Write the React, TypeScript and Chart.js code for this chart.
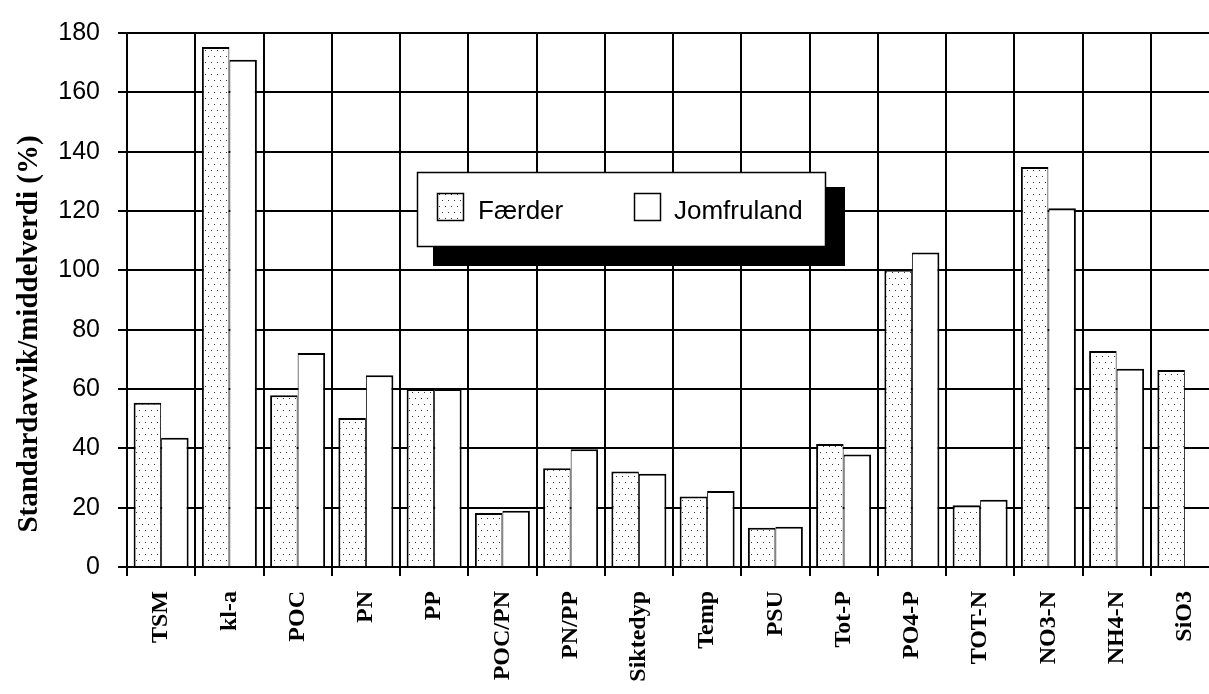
import React, { useEffect, useRef } from 'react';
import { Chart, registerables } from 'chart.js';

Chart.register(...registerables);

const categories = ['TSM', 'kl-a', 'POC', 'PN', 'PP', 'POC/PN', 'PN/PP', 'Siktedyp', 'Temp', 'PSU', 'Tot-P', 'PO4-P', 'TOT-N', 'NO3-N', 'NH4-N', 'SiO3'];
const faerder = [55.4, 175.3, 57.9, 50.2, 60.0, 18.2, 33.3, 32.2, 23.8, 13.2, 41.5, 100.2, 20.8, 134.8, 72.8, 66.4];
const jomfruland = [43.6, 171.0, 72.1, 64.6, 60.0, 19.0, 39.7, 31.4, 25.6, 13.6, 37.9, 106.0, 22.7, 120.9, 66.8, null];
const seriesLabels = ['Færder', 'Jomfruland'];
const yAxisTitle = 'Standardavvik/middelverdi (%)';
const yMin = 0;
const yMax = 180;
const yStep = 20;

function makeDotPattern(): CanvasPattern | string {
  const c = document.createElement('canvas');
  c.width = 6;
  c.height = 12;
  const g = c.getContext('2d');
  if (!g) return '#fff';
  g.fillStyle = '#ffffff';
  g.fillRect(0, 0, 6, 12);
  g.fillStyle = '#333333';
  g.fillRect(1, 2, 1, 1);
  g.fillRect(4, 8, 1, 1);
  const p = g.createPattern(c, 'repeat');
  return p || '#fff';
}

const yTitlePlugin = {
  id: 'yTitleCustom',
  afterDraw(chart: any) {
    const ctx = chart.ctx as CanvasRenderingContext2D;
    ctx.save();
    ctx.translate(37, 334);
    ctx.rotate(-Math.PI / 2);
    ctx.font = 'bold 29px "Liberation Serif", "Times New Roman", serif';
    ctx.fillStyle = '#000';
    ctx.textAlign = 'center';
    ctx.textBaseline = 'alphabetic';
    ctx.fillText(yAxisTitle, 0, 0);
    ctx.restore();
  },
};

const boxLegendPlugin = {
  id: 'boxLegend',
  afterDraw(chart: any) {
    const ctx = chart.ctx as CanvasRenderingContext2D;
    ctx.save();
    // shadow
    ctx.fillStyle = '#000';
    ctx.fillRect(433, 187, 412, 79);
    // box
    ctx.fillStyle = '#fff';
    ctx.fillRect(417, 172, 409, 75);
    ctx.lineWidth = 1.5;
    ctx.strokeStyle = '#000';
    ctx.strokeRect(417.5, 172.5, 408, 74);
    const swatchX = [437, 634];
    const textX = [478, 674];
    chart.data.datasets.forEach((ds: any, i: number) => {
      ctx.fillStyle = ds.backgroundColor;
      ctx.fillRect(swatchX[i], 193, 27, 28);
      ctx.lineWidth = 1.5;
      ctx.strokeStyle = '#000';
      ctx.strokeRect(swatchX[i] + 0.5, 193.5, 26, 27);
      ctx.fillStyle = '#000';
      ctx.font = '26px "Liberation Sans", Arial, sans-serif';
      ctx.textAlign = 'left';
      ctx.textBaseline = 'alphabetic';
      ctx.fillText(ds.label, textX[i], 219);
    });
    ctx.restore();
  },
};

export default function App() {
  const canvasRef = useRef<HTMLCanvasElement | null>(null);

  useEffect(() => {
    const canvas = canvasRef.current;
    if (!canvas) return;
    const dots = makeDotPattern();
    const chart = new Chart(canvas, {
      type: 'bar',
      data: {
        labels: categories,
        datasets: [
          {
            label: seriesLabels[0],
            data: faerder,
            backgroundColor: dots as any,
            borderColor: '#000',
            borderWidth: { top: 2, left: 2, right: 1, bottom: 0 } as any,
            borderSkipped: false as any,
            categoryPercentage: 0.806,
            barPercentage: 1.0,
          },
          {
            label: seriesLabels[1],
            data: jomfruland as any,
            backgroundColor: '#ffffff',
            borderColor: '#000',
            borderWidth: { top: 2, left: 1, right: 2, bottom: 0 } as any,
            borderSkipped: false as any,
            categoryPercentage: 0.806,
            barPercentage: 1.0,
          },
        ],
      },
      options: {
        responsive: false,
        animation: false,
        devicePixelRatio: 1,
        layout: { padding: { top: 24, left: 0, right: 21, bottom: 0 } },
        plugins: {
          legend: { display: false },
          tooltip: { enabled: false },
          title: { display: false },
        },
        scales: {
          x: {
            type: 'category',
            grid: {
              display: true,
              offset: true,
              color: '#000',
              lineWidth: 2,
              drawTicks: true,
              tickLength: 9,
            },
            border: { display: true, color: '#000', width: 2 },
            ticks: {
              autoSkip: false,
              maxRotation: 90,
              minRotation: 90,
              padding: 15,
              color: '#000',
              font: { family: '"Liberation Serif", "Times New Roman", serif', size: 24, weight: 'bold' },
            },
            afterFit(scale: any) {
              scale.height = 127;
            },
          },
          y: {
            min: yMin,
            max: yMax,
            ticks: {
              stepSize: yStep,
              padding: 18,
              color: '#000',
              font: { family: '"Liberation Sans", Arial, sans-serif', size: 25 },
            },
            grid: {
              color: '#000',
              lineWidth: 2,
              drawTicks: true,
              tickLength: 9,
            },
            border: { display: true, color: '#000', width: 2 },
            afterFit(scale: any) {
              scale.width = 127;
            },
          },
        },
      },
      plugins: [boxLegendPlugin, yTitlePlugin],
    });
    return () => {
      chart.destroy();
    };
  }, []);

  return (
    <div style={{ position: 'absolute', left: 0, top: 0, width: 1209, height: 694, overflow: 'hidden', background: '#fff' }}>
      <canvas ref={canvasRef} width={1240} height={694} style={{ display: 'block', width: 1240, height: 694 }} />
    </div>
  );
}
